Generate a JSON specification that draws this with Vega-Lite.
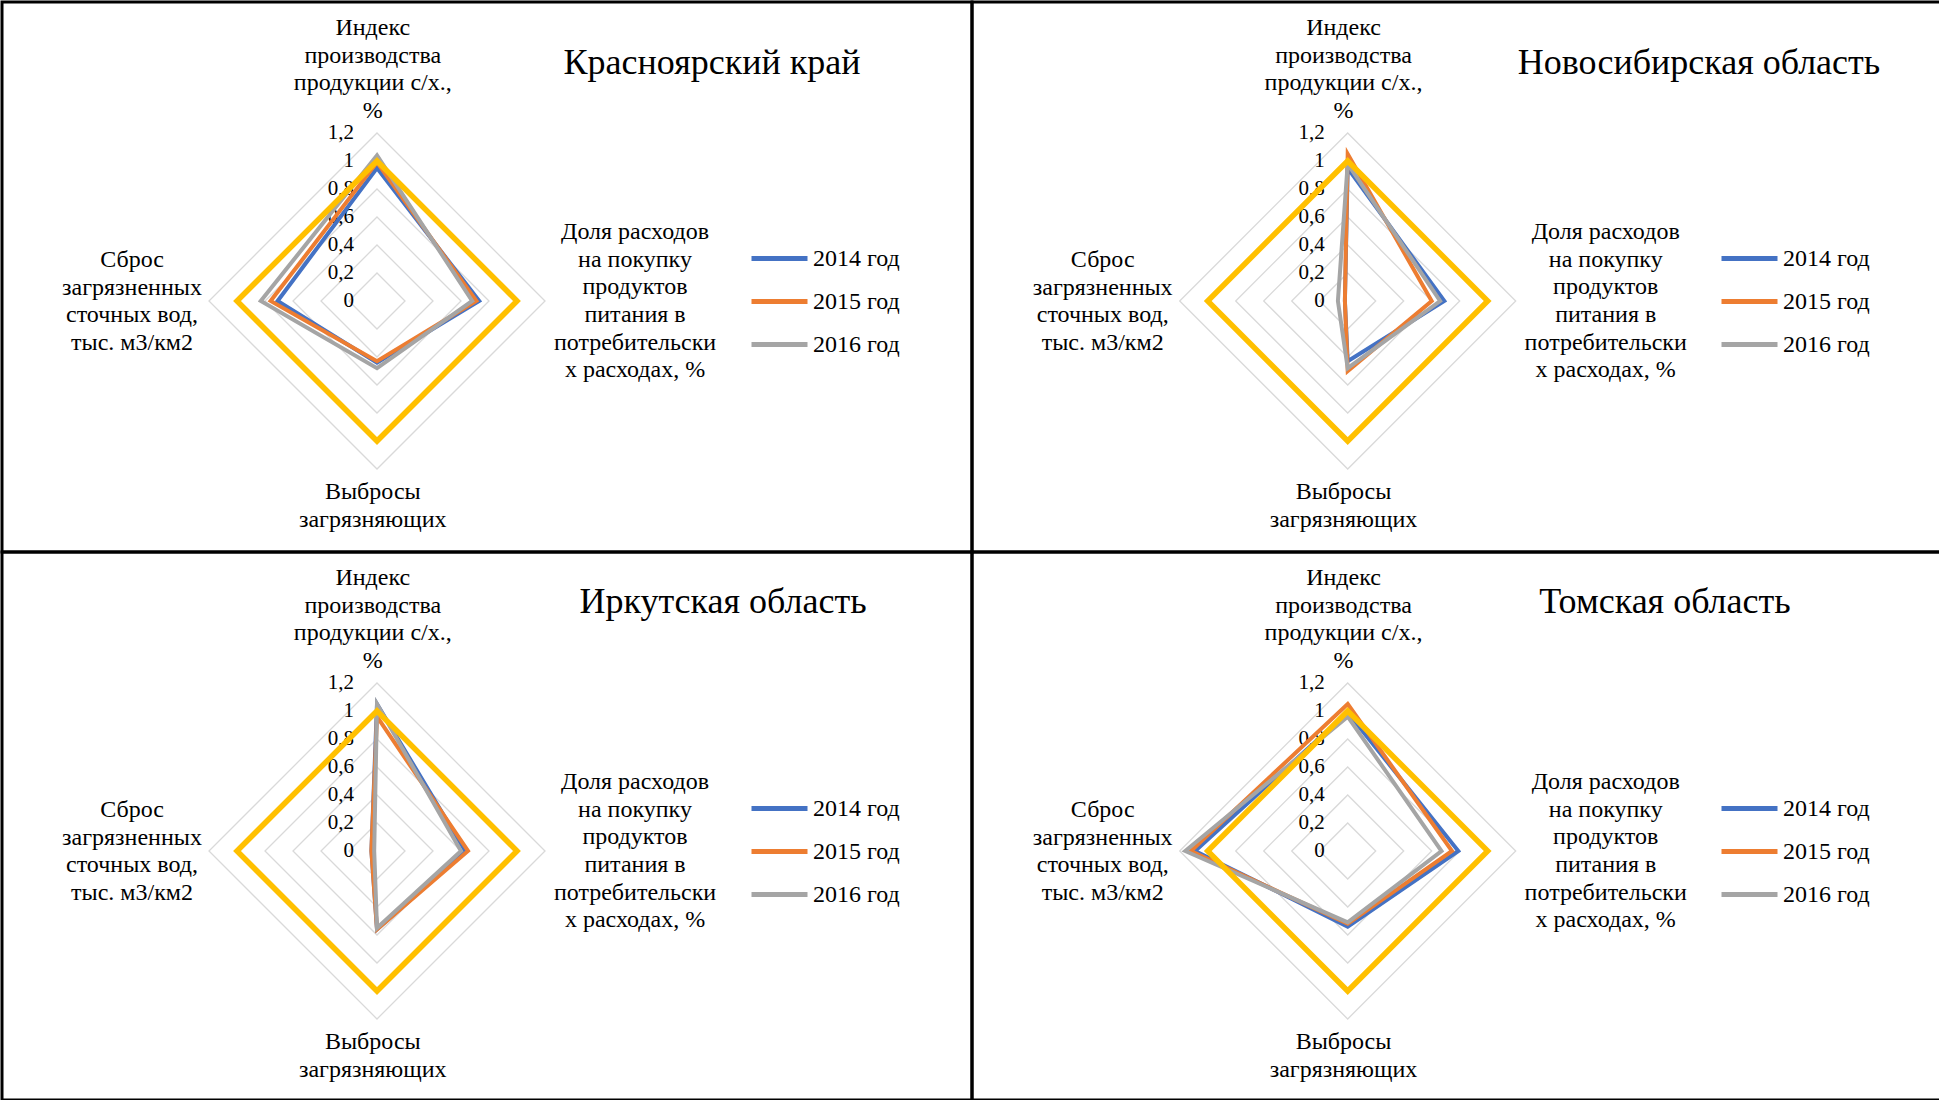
{
  "$schema": "https://vega.github.io/schema/vega-lite/v6.json",
  "background": "white",
  "padding": 0,
  "spacing": 0,
  "columns": 2,
  "bounds": "flush",
  "resolve": {"scale": {"color": "independent"}, "legend": {"color": "independent"}},
  "config": {
    "title": {"font": "Liberation Serif", "fontWeight": "normal", "color": "black", "fontSize": 36}
  },
  "datasets": {
    "grid": [
      {"level": 0.2, "k": [0, 1, 2, 3]},
      {"level": 0.4, "k": [0, 1, 2, 3]},
      {"level": 0.6, "k": [0, 1, 2, 3]},
      {"level": 0.8, "k": [0, 1, 2, 3]},
      {"level": 1.0, "k": [0, 1, 2, 3]},
      {"level": 1.2, "k": [0, 1, 2, 3]}
    ],
    "ticks": [
      {"level": 0, "lab": "0"},
      {"level": 0.2, "lab": "0,2"},
      {"level": 0.4, "lab": "0,4"},
      {"level": 0.6, "lab": "0,6"},
      {"level": 0.8, "lab": "0,8"},
      {"level": 1.0, "lab": "1"},
      {"level": 1.2, "lab": "1,2"}
    ],
    "cats": [
      {"k": 0, "label": "Индекс|производства|продукции с/х.,|%"},
      {"k": 1, "label": "Доля расходов|на покупку|продуктов|питания в|потребительски|х расходах, %"},
      {"k": 2, "label": "Выбросы|загрязняющих"},
      {"k": 3, "label": "Сброс|загрязненных|сточных вод,|тыс. м3/км2"}
    ],
    "vals": [
      {"region": "Красноярский край", "series": "2014 год", "k": 0, "value": 0.95},
      {"region": "Красноярский край", "series": "2014 год", "k": 1, "value": 0.73},
      {"region": "Красноярский край", "series": "2014 год", "k": 2, "value": 0.44},
      {"region": "Красноярский край", "series": "2014 год", "k": 3, "value": 0.71},
      {"region": "Красноярский край", "series": "2015 год", "k": 0, "value": 0.99},
      {"region": "Красноярский край", "series": "2015 год", "k": 1, "value": 0.71},
      {"region": "Красноярский край", "series": "2015 год", "k": 2, "value": 0.43},
      {"region": "Красноярский край", "series": "2015 год", "k": 3, "value": 0.76},
      {"region": "Красноярский край", "series": "2016 год", "k": 0, "value": 1.04},
      {"region": "Красноярский край", "series": "2016 год", "k": 1, "value": 0.68},
      {"region": "Красноярский край", "series": "2016 год", "k": 2, "value": 0.48},
      {"region": "Красноярский край", "series": "2016 год", "k": 3, "value": 0.83},
      {"region": "Красноярский край", "series": "эталон", "k": 0, "value": 1},
      {"region": "Красноярский край", "series": "эталон", "k": 1, "value": 1},
      {"region": "Красноярский край", "series": "эталон", "k": 2, "value": 1},
      {"region": "Красноярский край", "series": "эталон", "k": 3, "value": 1},
      {"region": "Новосибирская область", "series": "2014 год", "k": 0, "value": 0.95},
      {"region": "Новосибирская область", "series": "2014 год", "k": 1, "value": 0.69},
      {"region": "Новосибирская область", "series": "2014 год", "k": 2, "value": 0.43},
      {"region": "Новосибирская область", "series": "2014 год", "k": 3, "value": 0.02},
      {"region": "Новосибирская область", "series": "2015 год", "k": 0, "value": 1.05},
      {"region": "Новосибирская область", "series": "2015 год", "k": 1, "value": 0.60},
      {"region": "Новосибирская область", "series": "2015 год", "k": 2, "value": 0.50},
      {"region": "Новосибирская область", "series": "2015 год", "k": 3, "value": 0.02},
      {"region": "Новосибирская область", "series": "2016 год", "k": 0, "value": 0.98},
      {"region": "Новосибирская область", "series": "2016 год", "k": 1, "value": 0.66},
      {"region": "Новосибирская область", "series": "2016 год", "k": 2, "value": 0.48},
      {"region": "Новосибирская область", "series": "2016 год", "k": 3, "value": 0.07},
      {"region": "Новосибирская область", "series": "эталон", "k": 0, "value": 1},
      {"region": "Новосибирская область", "series": "эталон", "k": 1, "value": 1},
      {"region": "Новосибирская область", "series": "эталон", "k": 2, "value": 1},
      {"region": "Новосибирская область", "series": "эталон", "k": 3, "value": 1},
      {"region": "Иркутская область", "series": "2014 год", "k": 0, "value": 1.05},
      {"region": "Иркутская область", "series": "2014 год", "k": 1, "value": 0.63},
      {"region": "Иркутская область", "series": "2014 год", "k": 2, "value": 0.56},
      {"region": "Иркутская область", "series": "2014 год", "k": 3, "value": 0.04},
      {"region": "Иркутская область", "series": "2015 год", "k": 0, "value": 0.96},
      {"region": "Иркутская область", "series": "2015 год", "k": 1, "value": 0.65},
      {"region": "Иркутская область", "series": "2015 год", "k": 2, "value": 0.56},
      {"region": "Иркутская область", "series": "2015 год", "k": 3, "value": 0.04},
      {"region": "Иркутская область", "series": "2016 год", "k": 0, "value": 1.05},
      {"region": "Иркутская область", "series": "2016 год", "k": 1, "value": 0.60},
      {"region": "Иркутская область", "series": "2016 год", "k": 2, "value": 0.55},
      {"region": "Иркутская область", "series": "2016 год", "k": 3, "value": 0.02},
      {"region": "Иркутская область", "series": "эталон", "k": 0, "value": 1},
      {"region": "Иркутская область", "series": "эталон", "k": 1, "value": 1},
      {"region": "Иркутская область", "series": "эталон", "k": 2, "value": 1},
      {"region": "Иркутская область", "series": "эталон", "k": 3, "value": 1},
      {"region": "Томская область", "series": "2014 год", "k": 0, "value": 0.99},
      {"region": "Томская область", "series": "2014 год", "k": 1, "value": 0.79},
      {"region": "Томская область", "series": "2014 год", "k": 2, "value": 0.54},
      {"region": "Томская область", "series": "2014 год", "k": 3, "value": 1.09},
      {"region": "Томская область", "series": "2015 год", "k": 0, "value": 1.05},
      {"region": "Томская область", "series": "2015 год", "k": 1, "value": 0.745},
      {"region": "Томская область", "series": "2015 год", "k": 2, "value": 0.52},
      {"region": "Томская область", "series": "2015 год", "k": 3, "value": 1.12},
      {"region": "Томская область", "series": "2016 год", "k": 0, "value": 0.96},
      {"region": "Томская область", "series": "2016 год", "k": 1, "value": 0.67},
      {"region": "Томская область", "series": "2016 год", "k": 2, "value": 0.51},
      {"region": "Томская область", "series": "2016 год", "k": 3, "value": 1.16},
      {"region": "Томская область", "series": "эталон", "k": 0, "value": 1},
      {"region": "Томская область", "series": "эталон", "k": 1, "value": 1},
      {"region": "Томская область", "series": "эталон", "k": 2, "value": 1},
      {"region": "Томская область", "series": "эталон", "k": 3, "value": 1}
    ]
  },
  "concat": [
    {
      "width": 970, "height": 550,
      "view": {"stroke": "black", "strokeWidth": 3},
      "title": {"text": "Красноярский край", "anchor": "middle", "dx": 225, "offset": -62, "dy": 35, "baseline": "middle"},
      "layer": [
        {"data": {"name": "grid"},
         "transform": [{"flatten": ["k"]},
           {"calculate": "datum.k==1 ? datum.level : datum.k==3 ? -datum.level : 0", "as": "x"},
           {"calculate": "datum.k==0 ? datum.level : datum.k==2 ? -datum.level : 0", "as": "y"}],
         "mark": {"type": "line", "interpolate": "linear-closed", "color": "#D9D9D9", "strokeWidth": 1.3},
         "encoding": {
           "x": {"field": "x", "type": "quantitative", "scale": {"domain": [-2.6786, 4.25], "nice": false, "zero": false}, "axis": null},
           "y": {"field": "y", "type": "quantitative", "scale": {"domain": [-1.7929, 2.1357], "nice": false, "zero": false}, "axis": null},
           "detail": {"field": "level"}, "order": {"field": "k", "type": "quantitative"}}},
        {"data": {"name": "ticks"},
         "mark": {"type": "text", "align": "right", "baseline": "middle", "dx": -23, "fontSize": 21, "font": "Liberation Serif", "color": "black"},
         "encoding": {"x": {"datum": 0, "type": "quantitative"}, "y": {"field": "level", "type": "quantitative"}, "text": {"field": "lab"}}},
        {"data": {"name": "vals"},
         "transform": [{"filter": {"field": "region", "equal": "Красноярский край"}}, {"filter": "datum.series != 'эталон'"},
           {"calculate": "datum.k==1 ? datum.value : datum.k==3 ? -datum.value : 0", "as": "x"},
           {"calculate": "datum.k==0 ? datum.value : datum.k==2 ? -datum.value : 0", "as": "y"}],
         "mark": {"type": "line", "interpolate": "linear-closed", "strokeWidth": 4},
         "encoding": {
           "x": {"field": "x", "type": "quantitative"}, "y": {"field": "y", "type": "quantitative"},
           "color": {"field": "series", "type": "nominal",
             "scale": {"domain": ["2014 год", "2015 год", "2016 год", "эталон"], "range": ["#4472C4", "#ED7D31", "#A5A5A5", "#FFC000"]},
             "legend": {"orient": "none", "legendX": 747, "legendY": 226, "title": null, "values": ["2014 год", "2015 год", "2016 год"],
               "symbolType": "stroke", "symbolStrokeWidth": 5, "symbolSize": 3136, "labelFontSize": 24, "labelFont": "Liberation Serif",
               "labelColor": "black", "rowPadding": -2, "labelOffset": 3, "padding": 0}},
           "order": {"field": "k", "type": "quantitative"}}},
        {"data": {"name": "vals"},
         "transform": [{"filter": {"field": "region", "equal": "Красноярский край"}}, {"filter": "datum.series == 'эталон'"},
           {"calculate": "datum.k==1 ? datum.value : datum.k==3 ? -datum.value : 0", "as": "x"},
           {"calculate": "datum.k==0 ? datum.value : datum.k==2 ? -datum.value : 0", "as": "y"}],
         "mark": {"type": "line", "interpolate": "linear-closed", "strokeWidth": 5.5},
         "encoding": {"x": {"field": "x", "type": "quantitative"}, "y": {"field": "y", "type": "quantitative"},
           "color": {"field": "series", "type": "nominal"}, "order": {"field": "k", "type": "quantitative"}}},
        {"data": {"name": "cats"},
         "transform": [
           {"calculate": "datum.k==1 ? 1.843 : datum.k==3 ? -1.75 : -0.03", "as": "x"},
           {"calculate": "datum.k==0 ? 1.95 : datum.k==1 ? 0.493 : datum.k==3 ? 0.293 : -1.364", "as": "y"}],
         "mark": {"type": "text", "align": "center", "baseline": "middle", "fontSize": 24, "lineHeight": 27.7, "lineBreak": "|", "font": "Liberation Serif", "color": "black"},
         "encoding": {"x": {"field": "x", "type": "quantitative"}, "y": {"field": "y", "type": "quantitative"}, "text": {"field": "label"}}}
      ]
    },
    {
      "width": 970, "height": 550,
      "view": {"stroke": "black", "strokeWidth": 3},
      "title": {"text": "Новосибирская область", "anchor": "middle", "dx": 242, "offset": -62, "dy": 35, "baseline": "middle"},
      "layer": [
        {"data": {"name": "grid"},
         "transform": [{"flatten": ["k"]},
           {"calculate": "datum.k==1 ? datum.level : datum.k==3 ? -datum.level : 0", "as": "x"},
           {"calculate": "datum.k==0 ? datum.level : datum.k==2 ? -datum.level : 0", "as": "y"}],
         "mark": {"type": "line", "interpolate": "linear-closed", "color": "#D9D9D9", "strokeWidth": 1.3},
         "encoding": {
           "x": {"field": "x", "type": "quantitative", "scale": {"domain": [-2.6836, 4.2450], "nice": false, "zero": false}, "axis": null},
           "y": {"field": "y", "type": "quantitative", "scale": {"domain": [-1.7929, 2.1357], "nice": false, "zero": false}, "axis": null},
           "detail": {"field": "level"}, "order": {"field": "k", "type": "quantitative"}}},
        {"data": {"name": "ticks"},
         "mark": {"type": "text", "align": "right", "baseline": "middle", "dx": -23, "fontSize": 21, "font": "Liberation Serif", "color": "black"},
         "encoding": {"x": {"datum": 0, "type": "quantitative"}, "y": {"field": "level", "type": "quantitative"}, "text": {"field": "lab"}}},
        {"data": {"name": "vals"},
         "transform": [{"filter": {"field": "region", "equal": "Новосибирская область"}}, {"filter": "datum.series != 'эталон'"},
           {"calculate": "datum.k==1 ? datum.value : datum.k==3 ? -datum.value : 0", "as": "x"},
           {"calculate": "datum.k==0 ? datum.value : datum.k==2 ? -datum.value : 0", "as": "y"}],
         "mark": {"type": "line", "interpolate": "linear-closed", "strokeWidth": 4},
         "encoding": {
           "x": {"field": "x", "type": "quantitative"}, "y": {"field": "y", "type": "quantitative"},
           "color": {"field": "series", "type": "nominal",
             "scale": {"domain": ["2014 год", "2015 год", "2016 год", "эталон"], "range": ["#4472C4", "#ED7D31", "#A5A5A5", "#FFC000"]},
             "legend": {"orient": "none", "legendX": 747, "legendY": 226, "title": null, "values": ["2014 год", "2015 год", "2016 год"],
               "symbolType": "stroke", "symbolStrokeWidth": 5, "symbolSize": 3136, "labelFontSize": 24, "labelFont": "Liberation Serif",
               "labelColor": "black", "rowPadding": -2, "labelOffset": 3, "padding": 0}},
           "order": {"field": "k", "type": "quantitative"}}},
        {"data": {"name": "vals"},
         "transform": [{"filter": {"field": "region", "equal": "Новосибирская область"}}, {"filter": "datum.series == 'эталон'"},
           {"calculate": "datum.k==1 ? datum.value : datum.k==3 ? -datum.value : 0", "as": "x"},
           {"calculate": "datum.k==0 ? datum.value : datum.k==2 ? -datum.value : 0", "as": "y"}],
         "mark": {"type": "line", "interpolate": "linear-closed", "strokeWidth": 5.5},
         "encoding": {"x": {"field": "x", "type": "quantitative"}, "y": {"field": "y", "type": "quantitative"},
           "color": {"field": "series", "type": "nominal"}, "order": {"field": "k", "type": "quantitative"}}},
        {"data": {"name": "cats"},
         "transform": [
           {"calculate": "datum.k==1 ? 1.843 : datum.k==3 ? -1.75 : -0.03", "as": "x"},
           {"calculate": "datum.k==0 ? 1.95 : datum.k==1 ? 0.493 : datum.k==3 ? 0.293 : -1.364", "as": "y"}],
         "mark": {"type": "text", "align": "center", "baseline": "middle", "fontSize": 24, "lineHeight": 27.7, "lineBreak": "|", "font": "Liberation Serif", "color": "black"},
         "encoding": {"x": {"field": "x", "type": "quantitative"}, "y": {"field": "y", "type": "quantitative"}, "text": {"field": "label"}}}
      ]
    },
    {
      "width": 970, "height": 548,
      "view": {"stroke": "black", "strokeWidth": 3},
      "title": {"text": "Иркутская область", "anchor": "middle", "dx": 236, "offset": -53, "dy": 33, "baseline": "middle"},
      "layer": [
        {"data": {"name": "grid"},
         "transform": [{"flatten": ["k"]},
           {"calculate": "datum.k==1 ? datum.level : datum.k==3 ? -datum.level : 0", "as": "x"},
           {"calculate": "datum.k==0 ? datum.level : datum.k==2 ? -datum.level : 0", "as": "y"}],
         "mark": {"type": "line", "interpolate": "linear-closed", "color": "#D9D9D9", "strokeWidth": 1.3},
         "encoding": {
           "x": {"field": "x", "type": "quantitative", "scale": {"domain": [-2.6786, 4.25], "nice": false, "zero": false}, "axis": null},
           "y": {"field": "y", "type": "quantitative", "scale": {"domain": [-1.7786, 2.1357], "nice": false, "zero": false}, "axis": null},
           "detail": {"field": "level"}, "order": {"field": "k", "type": "quantitative"}}},
        {"data": {"name": "ticks"},
         "mark": {"type": "text", "align": "right", "baseline": "middle", "dx": -23, "fontSize": 21, "font": "Liberation Serif", "color": "black"},
         "encoding": {"x": {"datum": 0, "type": "quantitative"}, "y": {"field": "level", "type": "quantitative"}, "text": {"field": "lab"}}},
        {"data": {"name": "vals"},
         "transform": [{"filter": {"field": "region", "equal": "Иркутская область"}}, {"filter": "datum.series != 'эталон'"},
           {"calculate": "datum.k==1 ? datum.value : datum.k==3 ? -datum.value : 0", "as": "x"},
           {"calculate": "datum.k==0 ? datum.value : datum.k==2 ? -datum.value : 0", "as": "y"}],
         "mark": {"type": "line", "interpolate": "linear-closed", "strokeWidth": 4},
         "encoding": {
           "x": {"field": "x", "type": "quantitative"}, "y": {"field": "y", "type": "quantitative"},
           "color": {"field": "series", "type": "nominal",
             "scale": {"domain": ["2014 год", "2015 год", "2016 год", "эталон"], "range": ["#4472C4", "#ED7D31", "#A5A5A5", "#FFC000"]},
             "legend": {"orient": "none", "legendX": 747, "legendY": 226, "title": null, "values": ["2014 год", "2015 год", "2016 год"],
               "symbolType": "stroke", "symbolStrokeWidth": 5, "symbolSize": 3136, "labelFontSize": 24, "labelFont": "Liberation Serif",
               "labelColor": "black", "rowPadding": -2, "labelOffset": 3, "padding": 0}},
           "order": {"field": "k", "type": "quantitative"}}},
        {"data": {"name": "vals"},
         "transform": [{"filter": {"field": "region", "equal": "Иркутская область"}}, {"filter": "datum.series == 'эталон'"},
           {"calculate": "datum.k==1 ? datum.value : datum.k==3 ? -datum.value : 0", "as": "x"},
           {"calculate": "datum.k==0 ? datum.value : datum.k==2 ? -datum.value : 0", "as": "y"}],
         "mark": {"type": "line", "interpolate": "linear-closed", "strokeWidth": 5.5},
         "encoding": {"x": {"field": "x", "type": "quantitative"}, "y": {"field": "y", "type": "quantitative"},
           "color": {"field": "series", "type": "nominal"}, "order": {"field": "k", "type": "quantitative"}}},
        {"data": {"name": "cats"},
         "transform": [
           {"calculate": "datum.k==1 ? 1.843 : datum.k==3 ? -1.75 : -0.03", "as": "x"},
           {"calculate": "datum.k==0 ? 1.95 : datum.k==1 ? 0.493 : datum.k==3 ? 0.293 : -1.364", "as": "y"}],
         "mark": {"type": "text", "align": "center", "baseline": "middle", "fontSize": 24, "lineHeight": 27.7, "lineBreak": "|", "font": "Liberation Serif", "color": "black"},
         "encoding": {"x": {"field": "x", "type": "quantitative"}, "y": {"field": "y", "type": "quantitative"}, "text": {"field": "label"}}}
      ]
    },
    {
      "width": 970, "height": 548,
      "view": {"stroke": "black", "strokeWidth": 3},
      "title": {"text": "Томская область", "anchor": "middle", "dx": 208, "offset": -53, "dy": 33, "baseline": "middle"},
      "layer": [
        {"data": {"name": "grid"},
         "transform": [{"flatten": ["k"]},
           {"calculate": "datum.k==1 ? datum.level : datum.k==3 ? -datum.level : 0", "as": "x"},
           {"calculate": "datum.k==0 ? datum.level : datum.k==2 ? -datum.level : 0", "as": "y"}],
         "mark": {"type": "line", "interpolate": "linear-closed", "color": "#D9D9D9", "strokeWidth": 1.3},
         "encoding": {
           "x": {"field": "x", "type": "quantitative", "scale": {"domain": [-2.6836, 4.2450], "nice": false, "zero": false}, "axis": null},
           "y": {"field": "y", "type": "quantitative", "scale": {"domain": [-1.7786, 2.1357], "nice": false, "zero": false}, "axis": null},
           "detail": {"field": "level"}, "order": {"field": "k", "type": "quantitative"}}},
        {"data": {"name": "ticks"},
         "mark": {"type": "text", "align": "right", "baseline": "middle", "dx": -23, "fontSize": 21, "font": "Liberation Serif", "color": "black"},
         "encoding": {"x": {"datum": 0, "type": "quantitative"}, "y": {"field": "level", "type": "quantitative"}, "text": {"field": "lab"}}},
        {"data": {"name": "vals"},
         "transform": [{"filter": {"field": "region", "equal": "Томская область"}}, {"filter": "datum.series != 'эталон'"},
           {"calculate": "datum.k==1 ? datum.value : datum.k==3 ? -datum.value : 0", "as": "x"},
           {"calculate": "datum.k==0 ? datum.value : datum.k==2 ? -datum.value : 0", "as": "y"}],
         "mark": {"type": "line", "interpolate": "linear-closed", "strokeWidth": 4},
         "encoding": {
           "x": {"field": "x", "type": "quantitative"}, "y": {"field": "y", "type": "quantitative"},
           "color": {"field": "series", "type": "nominal",
             "scale": {"domain": ["2014 год", "2015 год", "2016 год", "эталон"], "range": ["#4472C4", "#ED7D31", "#A5A5A5", "#FFC000"]},
             "legend": {"orient": "none", "legendX": 747, "legendY": 226, "title": null, "values": ["2014 год", "2015 год", "2016 год"],
               "symbolType": "stroke", "symbolStrokeWidth": 5, "symbolSize": 3136, "labelFontSize": 24, "labelFont": "Liberation Serif",
               "labelColor": "black", "rowPadding": -2, "labelOffset": 3, "padding": 0}},
           "order": {"field": "k", "type": "quantitative"}}},
        {"data": {"name": "vals"},
         "transform": [{"filter": {"field": "region", "equal": "Томская область"}}, {"filter": "datum.series == 'эталон'"},
           {"calculate": "datum.k==1 ? datum.value : datum.k==3 ? -datum.value : 0", "as": "x"},
           {"calculate": "datum.k==0 ? datum.value : datum.k==2 ? -datum.value : 0", "as": "y"}],
         "mark": {"type": "line", "interpolate": "linear-closed", "strokeWidth": 5.5},
         "encoding": {"x": {"field": "x", "type": "quantitative"}, "y": {"field": "y", "type": "quantitative"},
           "color": {"field": "series", "type": "nominal"}, "order": {"field": "k", "type": "quantitative"}}},
        {"data": {"name": "cats"},
         "transform": [
           {"calculate": "datum.k==1 ? 1.843 : datum.k==3 ? -1.75 : -0.03", "as": "x"},
           {"calculate": "datum.k==0 ? 1.95 : datum.k==1 ? 0.493 : datum.k==3 ? 0.293 : -1.364", "as": "y"}],
         "mark": {"type": "text", "align": "center", "baseline": "middle", "fontSize": 24, "lineHeight": 27.7, "lineBreak": "|", "font": "Liberation Serif", "color": "black"},
         "encoding": {"x": {"field": "x", "type": "quantitative"}, "y": {"field": "y", "type": "quantitative"}, "text": {"field": "label"}}}
      ]
    }
  ]
}
